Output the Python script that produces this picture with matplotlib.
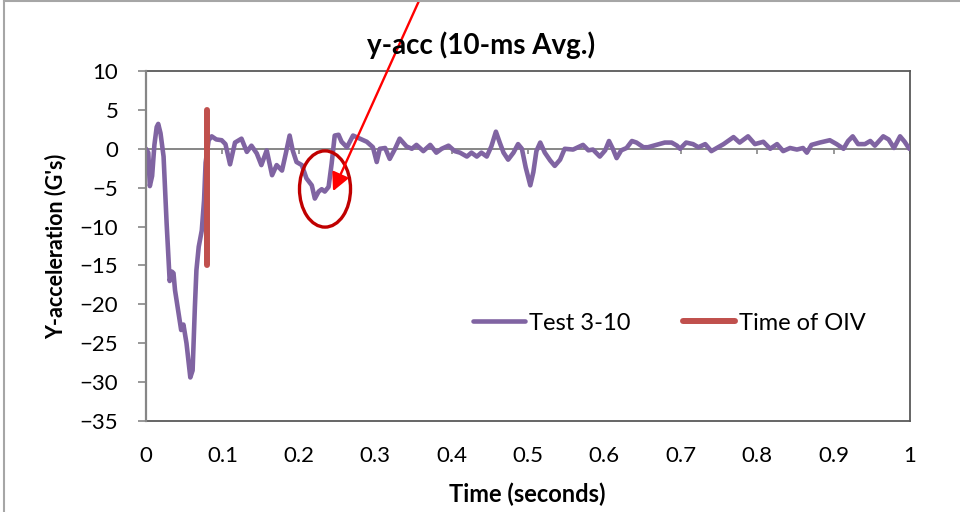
import matplotlib
matplotlib.use('Agg')
import matplotlib.pyplot as plt
from matplotlib.patches import Ellipse
from matplotlib.lines import Line2D

plt.rcParams['font.family'] = ['Lato', 'DejaVu Sans']

# trace
time_s = [0.000, 0.003, 0.005, 0.008, 0.011, 0.014, 0.016, 0.019, 0.023, 0.027,
          0.031, 0.034, 0.036, 0.038, 0.044, 0.046, 0.049, 0.053, 0.058, 0.061,
          0.064, 0.066, 0.069, 0.073, 0.076, 0.078, 0.082, 0.086, 0.092, 0.099,
          0.104, 0.110, 0.1165, 0.125, 0.132, 0.138, 0.145, 0.151, 0.158, 0.165,
          0.171, 0.178, 0.183, 0.188, 0.192, 0.197, 0.204, 0.210, 0.217, 0.221,
          0.226, 0.230, 0.234, 0.239, 0.243, 0.247, 0.252, 0.256, 0.263, 0.271,
          0.280, 0.289, 0.297, 0.302, 0.306, 0.313, 0.319, 0.326, 0.332, 0.341,
          0.348, 0.354, 0.363, 0.372, 0.380, 0.387, 0.396, 0.404, 0.411, 0.420,
          0.426, 0.433, 0.439, 0.446, 0.452, 0.458, 0.463, 0.468, 0.474, 0.481,
          0.487, 0.492, 0.497, 0.503, 0.507, 0.511, 0.516, 0.522, 0.529, 0.535,
          0.542, 0.548, 0.559, 0.572, 0.579, 0.585, 0.594, 0.601, 0.606, 0.611,
          0.616, 0.622, 0.629, 0.636, 0.642, 0.651, 0.657, 0.668, 0.679, 0.688,
          0.695, 0.699, 0.707, 0.716, 0.723, 0.732, 0.740, 0.747, 0.756, 0.769,
          0.777, 0.788, 0.797, 0.808, 0.817, 0.826, 0.834, 0.843, 0.852, 0.860,
          0.865, 0.871, 0.882, 0.895, 0.904, 0.913, 0.919, 0.925, 0.932, 0.941,
          0.948, 0.954, 0.965, 0.972, 0.979, 0.987, 0.993, 0.999]
y_acc = [0.0, -0.5, -4.8, -3.5, 0.5, 2.8, 3.2, 2.0, -1.0, -9.6,
         -17.0, -15.8, -16.0, -18.2, -22.0, -23.3, -22.6, -25.0, -29.4, -28.5,
         -20.3, -15.6, -12.6, -10.5, -6.6, -1.8, 1.1, 1.6, 1.2, 1.1,
         0.6, -2.0, 0.8, 1.3, -0.4, 0.4, -0.6, -2.1, -0.2, -3.4,
         -2.1, -2.8, -0.6, 1.7, -0.2, -1.7, -2.1, -3.8, -4.7, -6.4,
         -5.5, -5.2, -5.5, -4.9, -1.9, 1.7, 1.8, 0.9, 0.2, 1.7,
         1.3, 0.9, 0.2, -1.7, 0.0, 0.1, -1.3, 0.0, 1.3, 0.3,
         0.0, 0.5, -0.3, 0.5, -0.5, 0.0, 0.4, -0.3, -0.5, -1.0,
         -0.5, -1.0, -0.5, -1.0, 0.3, 2.2, 0.8, -0.5, -1.4, -0.5,
         0.6, 0.0, -2.4, -4.7, -3.0, -0.3, 0.8, -0.5, -1.5, -2.2,
         -1.4, 0.0, -0.1, 0.5, -0.2, -0.1, -1.0, -0.2, 1.0, 0.0,
         -1.2, -0.2, 0.1, 1.0, 0.8, 0.2, 0.2, 0.5, 0.8, 0.8,
         0.4, 0.0, 0.8, 0.6, 0.2, 0.6, -0.3, 0.1, 0.6, 1.5,
         0.8, 1.6, 0.6, 0.9, 0.0, 0.6, -0.3, 0.1, -0.1, 0.1,
         -0.5, 0.5, 0.8, 1.1, 0.6, 0.0, 1.0, 1.6, 0.6, 0.6,
         1.0, 0.4, 1.6, 1.2, 0.1, 1.6, 0.9, 0.0]

oiv_time = [0.08, 0.08]
oiv_range = [5, -15]

x_ticks = [0, 0.1, 0.2, 0.3, 0.4, 0.5, 0.6, 0.7, 0.8, 0.9, 1]
x_labels = ['0', '0.1', '0.2', '0.3', '0.4', '0.5', '0.6', '0.7', '0.8', '0.9', '1']
y_ticks = [10, 5, 0, -5, -10, -15, -20, -25, -30, -35]

purple = '#8064A2'
red = '#C0504D'
axis_gray = '#868686'
frame_gray = '#595959'

fig = plt.figure(figsize=(9.6, 5.12), dpi=100)
ax = fig.add_axes([146 / 960, 1 - 421 / 512, 764 / 960, 350 / 512])

ax.plot(time_s, y_acc, color=purple, lw=3.3, solid_joinstyle='round',
        solid_capstyle='round', label='Test 3-10', zorder=4)
ax.plot(oiv_time, oiv_range, color=red, lw=4.3, solid_capstyle='round',
        label='Time of OIV', zorder=5)

ax.set_xlim(0, 1)
ax.set_ylim(-35, 10)
ax.set_xticks(x_ticks, labels=x_labels)
ax.set_yticks(y_ticks)
ax.tick_params(axis='x', length=0, pad=18, labelsize=16)
ax.tick_params(axis='y', length=6, width=1.2, color=axis_gray, pad=14, labelsize=16)

for side in ['top', 'right', 'bottom']:
    ax.spines[side].set_color(frame_gray)
    ax.spines[side].set_linewidth(1.3)
ax.spines['left'].set_color(axis_gray)
ax.spines['left'].set_linewidth(1.6)
ax.spines['left'].set_zorder(6)

# horizontal axis crossing at zero with its small ticks
ax.axhline(0, color=axis_gray, lw=1.4, zorder=2)
ax.vlines(x_ticks, 0, -0.65, color=axis_gray, lw=1.2, zorder=2)

leg = ax.legend(loc='center', bbox_to_anchor=(0.685, 0.28), ncol=2,
                frameon=False, fontsize=17, handlelength=2.2,
                handletextpad=0.2, columnspacing=2.2)

# callout: circle around the dip and a long red arrow into it
ax.add_patch(Ellipse((0.2343, -5.17), 0.0668, 9.8, fill=False,
                     edgecolor='#C00000', lw=2.4, zorder=6))
ax.annotate('', xy=(0.2448, -5.45), xycoords='data',
            xytext=(424 / 960, 1.02), textcoords='figure fraction',
            arrowprops=dict(arrowstyle='-|>', color='#FF0000', lw=1.7,
                            mutation_scale=27, shrinkA=0, shrinkB=0),
            annotation_clip=False, zorder=7)

fig.text(481 / 960, 1 - 45 / 512, 'y-acc (10-ms Avg.)', ha='center', va='center',
         fontsize=20, fontweight='bold')
fig.text(56 / 960, 1 - 246 / 512, "Y-acceleration (G's)", ha='center', va='center',
         rotation=90, fontsize=15.5, fontweight='bold')
fig.text(527 / 960, 1 - 494 / 512, 'Time (seconds)', ha='center', va='center',
         fontsize=17, fontweight='bold')

# chart border (only left and top edges show)
fig.add_artist(Line2D([3.5 / 960, 3.5 / 960], [0, 1], color='#A6A6A6', lw=1.5))
fig.add_artist(Line2D([3.5 / 960, 1], [1 - 0.5 / 512, 1 - 0.5 / 512], color='#A6A6A6', lw=1.5))

fig.savefig('out.png', dpi=100)
